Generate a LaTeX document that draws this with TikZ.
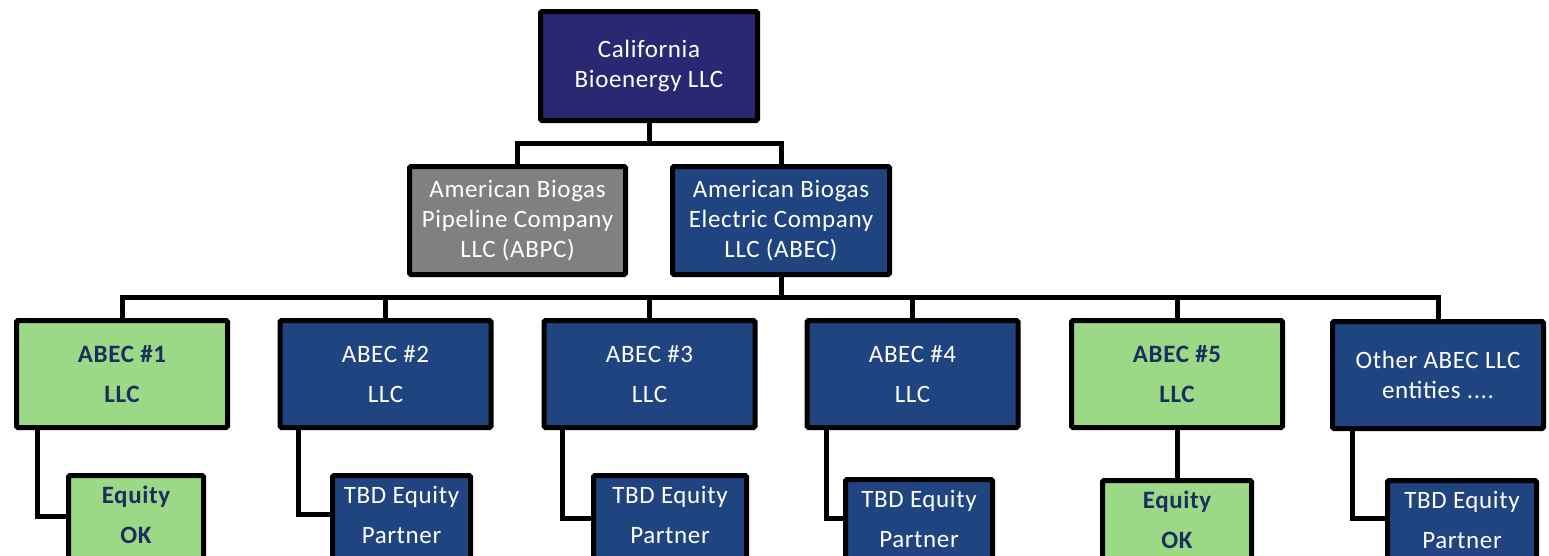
\documentclass[tikz,border=0pt]{standalone}
\usepackage{fontspec}
\setmainfont{Carlito}[LetterSpace=2.5]
\definecolor{cbindigo}{RGB}{43,40,115}
\definecolor{abecblue}{RGB}{31,68,128}
\definecolor{abpcgray}{RGB}{128,128,128}
\definecolor{okgreen}{RGB}{155,217,135}
\definecolor{oknavy}{RGB}{28,45,94}
\tikzset{
  box/.style={draw=black, line width=5pt, rounded corners=1.5pt, inner sep=0pt,
    align=center, font=\fontsize{25}{30}\selectfont},
  bluebox/.style={box, fill=abecblue, text=white},
  greenbox/.style={box, fill=okgreen, text=oknavy, font=\fontsize{25}{30}\selectfont\bfseries},
  rowbox/.style={minimum width=211, minimum height=107},
  childbox/.style={minimum height=110, anchor=north},
  childtext/.style={align=center, inner sep=0pt, font=\fontsize{25}{30}\selectfont},
  link/.style={line width=5pt},
}
\begin{document}
\begin{tikzpicture}[x=1pt,y=-1pt]
  \useasboundingbox (0,0) rectangle (1549,555);
  \clip (0,0) rectangle (1549,555);

  % holding company and its two branches
  \node[box, fill=cbindigo, text=white, minimum width=217, minimum height=109] (cb) at (649,66) {California\\Bioenergy LLC};
  \node[box, fill=abpcgray, text=white, minimum width=216, minimum height=108] (abpc) at (517.5,220.5) {American Biogas\\Pipeline Company\\LLC (ABPC)};
  \node[bluebox, minimum width=217, minimum height=108] (abec) at (781,220.5) {American Biogas\\Electric Company\\LLC (ABEC)};

  % project companies
  \node[greenbox, rowbox] (abec1) at (122,374) {ABEC \#1\\[10pt]LLC};
  \node[bluebox, rowbox] (abec2) at (385.5,374) {ABEC \#2\\[10pt]LLC};
  \node[bluebox, rowbox] (abec3) at (649.5,374) {ABEC \#3\\[10pt]LLC};
  \node[bluebox, rowbox] (abec4) at (912.5,374) {ABEC \#4\\[10pt]LLC};
  \node[greenbox, rowbox] (abec5) at (1177,374) {ABEC \#5\\[10pt]LLC};
  \node[bluebox, rowbox] (other) at (1438,375) {Other ABEC LLC\\entities ....};

  % equity boxes (cut by the bottom edge)
  \node[greenbox, childbox, minimum width=135] (eq1) at (136,473) {};
  \node[bluebox, childbox, minimum width=138] (eq2) at (401.5,473) {};
  \node[bluebox, childbox, minimum width=153] (eq3) at (670,473) {};
  \node[bluebox, childbox, minimum width=147] (eq4) at (919,477) {};
  \node[greenbox, childbox, minimum width=149] (eq5) at (1177,478) {};
  \node[bluebox, childbox, minimum width=149] (eq6) at (1462,478) {};
  \node[childtext, text=oknavy, font=\fontsize{25}{30}\selectfont\bfseries] (eq1t) at (136,515) {Equity\\[10pt]OK};
  \node[childtext, text=white] (eq2t) at (401.5,515) {TBD Equity\\[10pt]Partner};
  \node[childtext, text=white] (eq3t) at (670,515) {TBD Equity\\[10pt]Partner};
  \node[childtext, text=white] (eq4t) at (919,519) {TBD Equity\\[10pt]Partner};
  \node[childtext, text=oknavy, font=\fontsize{25}{30}\selectfont\bfseries] (eq5t) at (1177,520) {Equity\\[10pt]OK};
  \node[childtext, text=white] (eq6t) at (1462,520) {TBD Equity\\[10pt]Partner};

  % top connectors
  \coordinate (j0) at (649,143);
  \draw[link] (cb.south) -- (j0) -| (abpc.north);
  \draw[link] (j0) -| (abec.north);

  % bus below ABEC
  \coordinate (j1) at (781,297);
  \draw[link] (abec.south) -- (j1);
  \draw[link] (j1) -| (abec1.north);
  \draw[link] (j1) -| (abec2.north);
  \draw[link] (j1) -| (abec3.north);
  \draw[link] (j1) -| (abec4.north);
  \draw[link] (j1) -| (abec5.north);
  \draw[link] (j1) -| (other.north);

  % elbows down to the equity boxes
  \coordinate (k1) at (37,516);
  \coordinate (k2) at (298,514);
  \coordinate (k3) at (562,518);
  \coordinate (k4) at (826,518);
  \coordinate (k6) at (1352,518);
  \draw[link] (abec1.south -| k1) -- (k1) -- (eq1.west |- k1);
  \draw[link] (abec2.south -| k2) -- (k2) -- (eq2.west |- k2);
  \draw[link] (abec3.south -| k3) -- (k3) -- (eq3.west |- k3);
  \draw[link] (abec4.south -| k4) -- (k4) -- (eq4.west |- k4);
  \draw[link] (abec5.south) -- (eq5.north);
  \draw[link] (other.south -| k6) -- (k6) -- (eq6.west |- k6);
\end{tikzpicture}
\end{document}
